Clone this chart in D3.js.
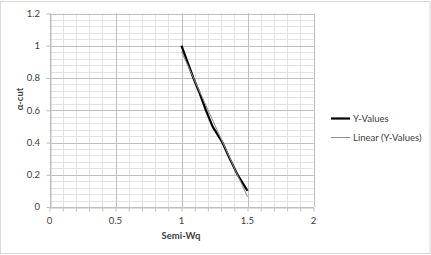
<!DOCTYPE html>
<html>
<head>
<meta charset="utf-8">
<script src="https://cdn.jsdelivr.net/npm/d3@7"></script>
<style>
  body { margin: 0; background: #fff; }
  text { font-family: Lato, "Liberation Sans", sans-serif; fill: #404040; }
</style>
</head>
<body>
<div id="chart"></div>
<script>
// alpha-cut levels and the semi-Wq value read at each level
var alphaCut = [1.0, 0.9, 0.8, 0.7, 0.6, 0.5, 0.4, 0.3, 0.2, 0.1];
var semiWq   = [1.0, 1.045, 1.09, 1.14, 1.185, 1.235, 1.31, 1.365, 1.425, 1.5];
var xTicks = [0, 0.5, 1, 1.5, 2];
var yTicks = [0, 0.2, 0.4, 0.6, 0.8, 1, 1.2];
var legendNames = ["Y-Values", "Linear (Y-Values)"];

var W = 431, H = 255;
var svg = d3.select("#chart").append("svg")
    .attr("width", W)
    .attr("height", H);

// outer chart frame
svg.append("rect")
    .attr("x", 0.5).attr("y", 1.5)
    .attr("width", W - 1.5).attr("height", H - 3)
    .attr("fill", "#fff")
    .attr("stroke", "#d9d9d9");

var x = d3.scaleLinear().domain([0, 2]).range([49.5, 313.5]);
var y = d3.scaleLinear().domain([0, 1.2]).range([207, 13.5]);

// minor grid
d3.range(0, 2.0001, 0.1).forEach(v =>
    svg.append("line")
    .attr("x1", Math.round(x(v)) + 0.5).attr("x2", Math.round(x(v)) + 0.5)
    .attr("y1", y(0)).attr("y2", y(1.2) )
    .attr("stroke", "#e3e3e3"));
d3.range(0, 1.2001, 0.04).forEach(v =>
    svg.append("line")
    .attr("x1", x(0)).attr("x2", x(2))
    .attr("y1", Math.round(y(v)) + 0.5).attr("y2", Math.round(y(v)) + 0.5)
    .attr("stroke", "#e3e3e3"));

// major grid
xTicks.forEach(v =>
    svg.append("line")
    .attr("x1", Math.round(x(v)) + 0.5).attr("x2", Math.round(x(v)) + 0.5)
    .attr("y1", y(0)).attr("y2", y(1.2))
    .attr("stroke", "#bfbfbf"));
yTicks.forEach(v =>
    svg.append("line")
    .attr("x1", x(0)).attr("x2", x(2))
    .attr("y1", Math.round(y(v)) + 0.5).attr("y2", Math.round(y(v)) + 0.5)
    .attr("stroke", "#bfbfbf"));

// axes with minor tick marks
var xAxis = svg.append("g")
    .attr("transform", "translate(0," + (Math.round(y(0)) + 0.5) + ")")
    .call(d3.axisBottom(x).tickValues(d3.range(0, 2.0001, 0.1)).tickFormat("").tickSize(4).tickSizeOuter(0));
var yAxis = svg.append("g")
    .attr("transform", "translate(" + (Math.round(x(0)) + 0.5) + ",0)")
    .call(d3.axisLeft(y).tickValues(yTicks).tickFormat("").tickSize(4).tickSizeOuter(0));
[xAxis, yAxis].forEach(g => {
    g.select(".domain").attr("stroke", "#bfbfbf");
    g.selectAll(".tick line").attr("stroke", "#bfbfbf");
});

xTicks.forEach(v =>
    svg.append("text")
    .attr("x", x(v)).attr("y", 224)
    .attr("text-anchor", "middle")
    .attr("font-size", 9.5)
    .text(d3.format("")(v)));
yTicks.forEach(v =>
    svg.append("text")
    .attr("x", 40).attr("y", y(v) + 3.3)
    .attr("text-anchor", "end")
    .attr("font-size", 9.5)
    .text(d3.format("")(v)));

// axis titles
svg.append("text")
    .attr("x", 181).attr("y", 239)
    .attr("text-anchor", "middle")
    .attr("font-size", 9.5).attr("font-weight", "bold")
    .text("Semi-Wq");
svg.append("text")
    .attr("transform", "translate(23,99) rotate(-90)")
    .attr("text-anchor", "middle")
    .attr("font-size", 9.5).attr("font-weight", "bold")
    .text("α-cut");

var pts = semiWq.map((v, i) => ({x: v, y: alphaCut[i]}));
var line = d3.line().x(d => x(d.x)).y(d => y(d.y));

svg.append("path")
    .datum(pts)
    .attr("d", line)
    .attr("fill", "none")
    .attr("stroke", "#000")
    .attr("stroke-width", 2.2)
    .attr("stroke-linejoin", "round");

// linear trendline (least squares of alpha on semi-Wq)
var mx = d3.mean(semiWq), my = d3.mean(alphaCut);
var slope = d3.sum(semiWq, (v, i) => (v - mx) * (alphaCut[i] - my)) / d3.sum(semiWq, v => (v - mx) * (v - mx));
var icpt = my - slope * mx;
var ext = d3.extent(semiWq);
svg.append("path")
    .datum(ext.map(v => ({x: v, y: icpt + slope * v})))
    .attr("d", line)
    .attr("fill", "none")
    .attr("stroke", "#8c8c8c")
    .attr("stroke-width", 1);

// legend
var legY = [118.5, 137.5];
legendNames.forEach((name, i) => {
    svg.append("line")
    .attr("x1", 331).attr("x2", 350)
    .attr("y1", legY[i]).attr("y2", legY[i])
    .attr("stroke", i == 0 ? "#000" : "#8c8c8c")
    .attr("stroke-width", i == 0 ? 2.2 : 1);
    svg.append("text")
    .attr("x", 353).attr("y", legY[i] + 3.3)
    .attr("font-size", 9.5)
    .text(name);
});
</script>
</body>
</html>
